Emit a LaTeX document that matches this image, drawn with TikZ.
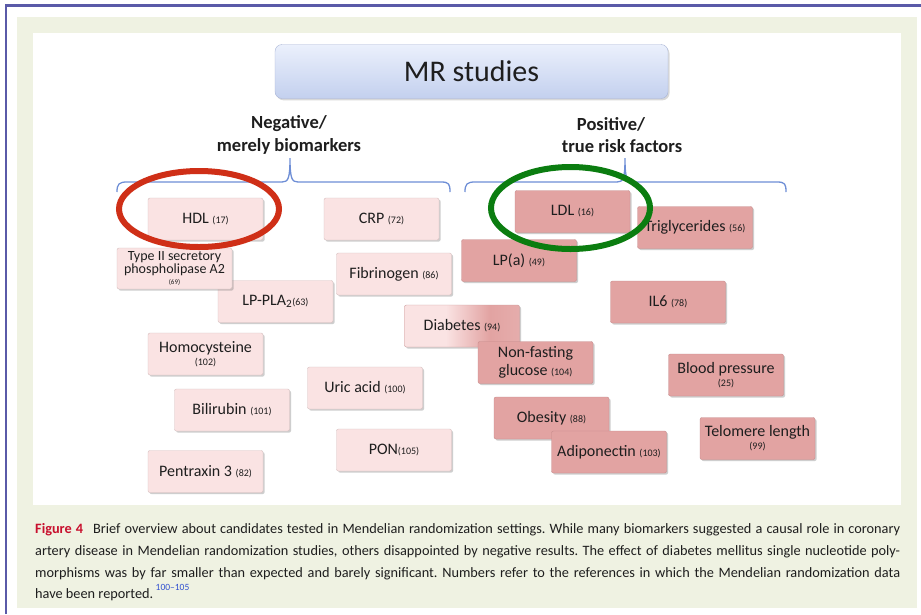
\documentclass[tikz,border=0pt]{standalone}
\usepackage{fontspec}
\setmainfont{Carlito}
\usetikzlibrary{shadows}

\definecolor{frameblue}{HTML}{5A5AA8}
\definecolor{paper}{HTML}{EFF2E2}
\definecolor{negfill}{HTML}{FAE3E3}
\definecolor{negline}{HTML}{D6BDBD}
\definecolor{posfill}{HTML}{E2A3A2}
\definecolor{posline}{HTML}{C68B8B}
\definecolor{mrtop}{HTML}{EBF0FC}
\definecolor{mrbot}{HTML}{C3D0EE}
\definecolor{mrline}{HTML}{A8B4D6}
\definecolor{bracecol}{HTML}{6E8ED6}
\definecolor{ringred}{HTML}{CF2F17}
\definecolor{ringgreen}{HTML}{0B7D10}
\definecolor{figred}{HTML}{C8102E}
\definecolor{refblue}{HTML}{3050D0}
\definecolor{ink}{HTML}{1E1E1E}

% glucose panel fades from the negative to the positive tint
\pgfdeclarehorizontalshading{diabshade}{100bp}{%
  color(0bp)=(negfill); color(43bp)=(negfill);
  color(62bp)=(posfill); color(75bp)=(posfill!85!negfill);
  color(100bp)=(posfill!85!negfill)}

\newcommand\refno[1]{{\fontsize{10}{10}\selectfont(#1)}}
\newcommand\tinyref[1]{{\fontsize{7}{8}\selectfont(#1)}}

\tikzset{
  boxbase/.style={rectangle, rounded corners=2pt, minimum width=115pt,
    minimum height=42pt, inner sep=1pt, align=center, text=ink,
    font=\fontsize{16}{16}\selectfont,
    drop shadow={shadow xshift=1.6pt, shadow yshift=-1.6pt, opacity=0.35, fill=black!55}},
  negbox/.style={boxbase, draw=negline, fill=negfill},
  posbox/.style={boxbase, draw=posline, fill=posfill},
  brace/.style={draw=bracecol, line width=1.3pt},
  ring/.style={line width=6pt},
  heading/.style={font=\fontsize{18.5}{22}\selectfont\bfseries, text=ink, inner sep=0pt},
  capline/.style={anchor=base west, inner sep=0pt, text=ink,
    font=\fontsize{14.3}{15}\selectfont\frenchspacing}
}

\begin{document}
\begin{tikzpicture}[x=1pt, y=-1pt]
\useasboundingbox (0,0) rectangle (921,614);

% page background, frame and panels
\fill[white] (0,0) rectangle (921,614);
\fill[paper] (17,17) rectangle (917,608);
\fill[white] (33,33) rectangle (901,505);
\draw[frameblue, line width=2.2pt] (6,614) -- (6,5.5) -- (921,5.5);

% title box
\node[rectangle, rounded corners=7pt, draw=mrline, top color=mrtop, bottom color=mrbot,
      minimum width=393pt, minimum height=54pt, inner sep=0pt,
      drop shadow={shadow xshift=1.5pt, shadow yshift=-1.8pt, opacity=0.3, fill=black!50},
      font=\fontsize{30}{32}\selectfont, text=ink] (mr) at (471.5,71.5) {MR studies};

% group headings
\node[heading] (neg1) at (289,124) {Negative/};
\node[heading] (neg2) at (289,146) {merely biomarkers};
\node[heading] (pos1) at (611,124) {Positive/};
\node[heading] (pos2) at (622,146) {true risk factors};

% braces
\path[brace] (117,192) .. controls (117,184) and (119,182) .. (127,182)
  -- (282,182) .. controls (288,182) and (290,179) .. (290,158)
  .. controls (290,179) and (292,182) .. (298,182)
  -- (441,182) .. controls (449,182) and (450,184) .. (450,192);
\path[brace] (465,192) .. controls (465,184) and (467,182) .. (475,182)
  -- (617,182) .. controls (623,182) and (625,179) .. (625,158)
  .. controls (625,179) and (627,182) .. (633,182)
  -- (777,182) .. controls (785,182) and (786,184) .. (786,192);

% negative / merely biomarkers
\node[negbox] (hdl)  at (205.5,219)   {HDL \refno{17}};
\node[negbox] (crp)  at (381.5,219)   {CRP \refno{72}};
\node[negbox] (fib)  at (394,274)     {Fibrinogen \refno{86}};
\node[negbox] (lppla) at (275.5,301.5) {LP-PLA\textsubscript{2}\refno{63}};
\node[negbox, minimum height=41pt, font=\fontsize{14}{13}\selectfont] (sPLA) at (174.5,268.5)
  {Type II secretory\\phospholipase A2\\[-2pt]\tinyref{69}};
\node[negbox] (homo) at (205.5,354)   {Homocysteine\\[-3pt]\refno{102}};
\node[negbox] (uric) at (365,388)     {Uric acid \refno{100}};
\node[negbox] (bili) at (232,410)     {Bilirubin \refno{101}};
\node[negbox] (pon)  at (394,450)     {PON\refno{105}};
\node[negbox] (pent) at (205.5,471.5) {Pentraxin 3 \refno{82}};

% diabetes sits between both groups
\node[boxbase, draw=posline!70!negline, shading=diabshade] (diab) at (462,326) {Diabetes \refno{94}};

% positive / true risk factors
\node[posbox] (ldl)  at (572.5,211.5) {LDL \refno{16}};
\node[posbox] (trig) at (695,227.5)   {Triglycerides \refno{56}};
\node[posbox] (lpa)  at (519,260.5)   {LP(a) \refno{49}};
\node[posbox] (il6)  at (668,302)     {IL6 \refno{78}};
\node[posbox, font=\fontsize{16}{18}\selectfont] (nfg) at (535.5,362.5) {Non-fasting\\glucose \refno{104}};
\node[posbox] (bp)   at (726,375)     {Blood pressure\\[-3pt]\refno{25}};
\node[posbox] (obes) at (551.5,418)   {Obesity \refno{88}};
\node[posbox] (adip) at (609,452)     {Adiponectin \refno{103}};
\node[posbox] (telo) at (757.5,438.5) {Telomere length\\[-3pt]\refno{99}};

% highlight rings
\draw[ring, ringred]   (199,209) ellipse [x radius=80pt, y radius=38pt];
\draw[ring, ringgreen] (570.5,208) ellipse [x radius=79.5pt, y radius=41pt];

% caption
\node[capline] (cap1) at (35,533) {\makebox[865pt][s]{{\bfseries\color{figred}Figure 4}\hspace{0.4em} Brief overview about candidates tested in Mendelian randomization settings. While many biomarkers suggested a causal role in coronary}};
\node[capline] (cap2) at (35,555) {\makebox[865pt][s]{artery disease in Mendelian randomization studies, others disappointed by negative results. The effect of diabetes mellitus single nucleotide poly-}};
\node[capline] (cap3) at (35,577) {\makebox[865pt][s]{morphisms was by far smaller than expected and barely significant. Numbers refer to the references in which the Mendelian randomization data}};
\node[capline] (cap4) at (35,598.5) {have been reported.\,\raisebox{0.55em}{\fontsize{9.5}{10}\selectfont\color{refblue}100--105}};
\end{tikzpicture}
\end{document}
